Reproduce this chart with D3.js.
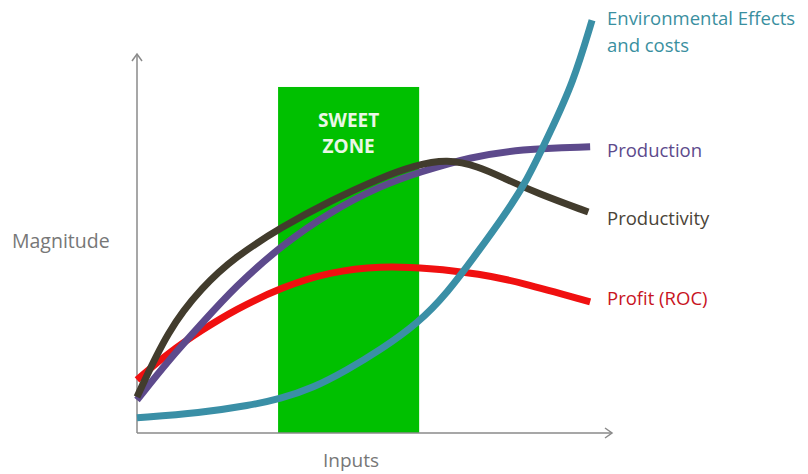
<!DOCTYPE html>
<html><head><meta charset="utf-8">
<script src="https://cdn.jsdelivr.net/npm/d3@7"></script>
<style>body{margin:0;background:#fff}svg{display:block}text{font-family:"Open Sans",sans-serif}</style>
</head><body><svg id="c" width="808" height="474"></svg>
<script>
const seriesNames = ["Environmental Effects and costs","Production","Productivity","Profit (ROC)"];
const productionX = [0,6.5,13.7,20.6,30.5,40.6,51.2,59.6,70.1,80.6,95.4];
const productionY = [8.7,19.0,29.0,38.5,49.6,58.3,65.2,68.9,72.8,74.9,75.5];
const productivityX = [0,6.5,13.7,20.6,30.5,40.6,51.2,58.5,65.3,72.0,77.1,84.2,95];
const productivityY = [9.5,27.2,38.5,46.4,54.4,61.2,67.3,70.6,72.3,70.3,67.3,63.3,58.3];
const profitX = [0,6.5,13.7,20.6,30.5,40.6,51.2,61.7,72.2,80.6,95.4];
const profitY = [14.0,21.1,27.2,32.5,38.5,42.5,44.1,43.5,42.0,39.8,34.6];
const envX = [0,13.3,23.8,30.1,37.1,44.2,51.2,59.2,65.3,71.6,77.1,82.1,86.9,91.8,95.8];
const envY = [4.0,5.3,7.3,9.0,11.9,16.6,21.9,29.0,36.9,47.5,57.0,66.5,79.2,92.3,108.9];
const sweetZone = [29.7,59.4];
const sweetTop = 91.3;

const svg = d3.select("#c");
const x = d3.scaleLinear().domain([0,100]).range([137,612]);
const y = d3.scaleLinear().domain([0,100]).range([433,54]);

// sweet zone
svg.append("rect").attr("x",x(sweetZone[0])).attr("y",y(sweetTop))
  .attr("width",x(sweetZone[1])-x(sweetZone[0])).attr("height",y(0)-y(sweetTop))
  .attr("fill","#00c000");
const zx=(x(sweetZone[0])+x(sweetZone[1]))/2;
svg.append("text").attr("x",zx).attr("y",127).attr("text-anchor","middle").attr("fill","#eaf7e6")
  .attr("font-size",19).attr("font-weight","bold").text("SWEET");
svg.append("text").attr("x",zx).attr("y",153).attr("text-anchor","middle").attr("fill","#eaf7e6")
  .attr("font-size",19).attr("font-weight","bold").text("ZONE");

// axes
const axisCol="#8a8a8a";
svg.append("line").attr("x1",x(0)).attr("y1",y(0)).attr("x2",x(0)).attr("y2",y(100)).attr("stroke",axisCol).attr("stroke-width",1.5);
svg.append("line").attr("x1",x(0)).attr("y1",y(0)).attr("x2",x(100)).attr("y2",y(0)).attr("stroke",axisCol).attr("stroke-width",1.5);
svg.append("path").attr("d",`M${x(0)-5},${y(100)+7}L${x(0)},${y(100)}L${x(0)+5},${y(100)+7}`).attr("fill","none").attr("stroke",axisCol).attr("stroke-width",1.5);
svg.append("path").attr("d",`M${x(100)-7},${y(0)-5}L${x(100)},${y(0)}L${x(100)-7},${y(0)+5}`).attr("fill","none").attr("stroke",axisCol).attr("stroke-width",1.5);

const line = d3.line().x(d=>x(d[0])).y(d=>y(d[1])).curve(d3.curveBasis);
const zip=(a,b)=>a.map((v,i)=>[v,b[i]]);
const series=[
  {pts:zip(profitX,profitY),col:"#f01010"},
  {pts:zip(productionX,productionY),col:"#5d4a8c"},
  {pts:zip(productivityX,productivityY),col:"#423c2d"},
  {pts:zip(envX,envY),col:"#3a8fa6"}
];
series.forEach(s=>svg.append("path").attr("d",line(s.pts)).attr("fill","none")
  .attr("stroke",s.col).attr("stroke-width",7));

// labels
const fs=18.5;
svg.append("text").attr("x",607).attr("y",25).attr("fill","#3a8fa0").attr("font-size",fs).text("Environmental Effects");
svg.append("text").attr("x",607).attr("y",52).attr("fill","#3a8fa0").attr("font-size",fs).text("and costs");
svg.append("text").attr("x",607).attr("y",157).attr("fill","#5d4a8c").attr("font-size",fs).text(seriesNames[1]);
svg.append("text").attr("x",607).attr("y",225).attr("fill","#4a4438").attr("font-size",fs).text(seriesNames[2]);
svg.append("text").attr("x",607).attr("y",305).attr("fill","#c8141e").attr("font-size",fs).text(seriesNames[3]);
svg.append("text").attr("x",12).attr("y",248).attr("fill","#777").attr("font-size",19.5).text("Magnitude");
svg.append("text").attr("x",323).attr("y",467).attr("fill","#777").attr("font-size",19).text("Inputs");
</script></body></html>
